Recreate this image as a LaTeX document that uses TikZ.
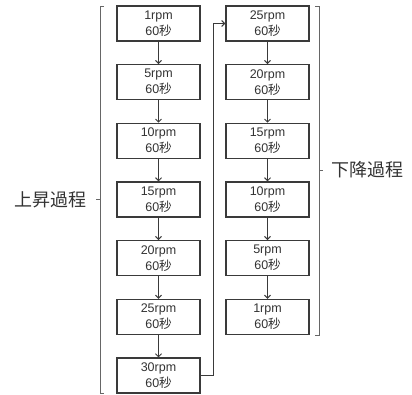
\documentclass[tikz,border=0pt]{standalone}
\usepackage{fontspec}
\setmainfont{Liberation Sans}
\newfontfamily\cjk{Noto Sans CJK JP}
\usetikzlibrary{arrows.meta}
\definecolor{ln}{HTML}{3A3A3A}
\definecolor{tx}{HTML}{333333}
\tikzset{
  x=1pt, y=-1pt,
  stepbox/.style={draw=ln, line width=1.2pt, minimum width=83pt, minimum height=35pt,
    inner sep=0pt, align=center, font=\fontsize{12.5}{16}\selectfont, text=tx},
  conn/.style={draw=ln, line width=1pt, -{Straight Barb[length=3pt,width=6pt]}},
  brk/.style={draw=gray!80!black, line width=0.9pt},
  lbl/.style={font=\cjk\fontsize{18}{20}\selectfont, text=tx, inner sep=0pt}
}
\begin{document}
\begin{tikzpicture}
\useasboundingbox (0,0) rectangle (412,394);
% left column
\foreach \i/\r in {0/1,1/5,2/10,3/15,4/20,5/25,6/30}{
  \node[stepbox] (L\i) at (158.5,{23.5+58.67*\i}) {\r rpm\\60{\cjk 秒}};
}
% right column
\foreach \i/\r in {0/25,1/20,2/15,3/10,4/5,5/1}{
  \node[stepbox] (R\i) at (267.5,{23.5+58.67*\i}) {\r rpm\\60{\cjk 秒}};
}
\foreach \i [evaluate=\i as \j using int(\i+1)] in {0,...,5}{
  \draw[conn] (L\i) -- (L\j);
}
\foreach \i [evaluate=\i as \j using int(\i+1)] in {0,...,4}{
  \draw[conn] (R\i) -- (R\j);
}
\coordinate (t1) at (213,0);
\draw[conn] (L6.east) -| (t1 |- R0.west) -- (R0.west);
% brackets
\draw[brk] (104,6) -- (100,6) -- (100,393) -- (104,393);
\coordinate (lt) at (100,199.5);
\coordinate (ltx) at (96,199.5);
\draw[brk] (lt) -- (ltx);
\draw[brk] (315,6) -- (319,6) -- (319,335) -- (315,335);
\coordinate (rt) at (319,170.5);
\coordinate (rtx) at (323,170.5);
\draw[brk] (rt) -- (rtx);
\node[lbl, anchor=east] (up) at (87,199.5) {上昇過程};
\node[lbl, anchor=west] (down) at (331,169.5) {下降過程};
\end{tikzpicture}
\end{document}
